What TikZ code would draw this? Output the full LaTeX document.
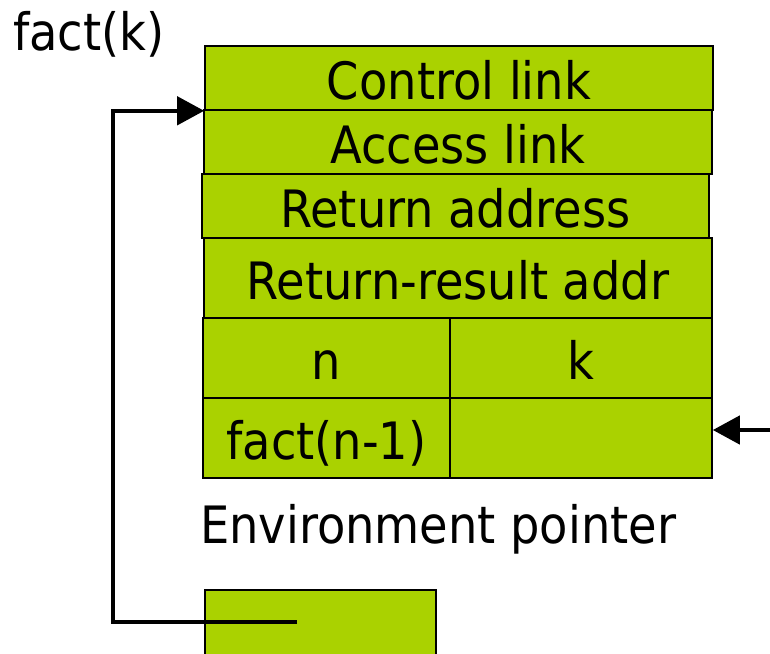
\documentclass[tikz,border=0pt]{standalone}
\usepackage{fontspec}
\setmainfont{DejaVu Sans Condensed}
\usetikzlibrary{arrows.meta}
\definecolor{framegreen}{RGB}{170,210,0}
\tikzset{
  cell/.style={draw=black, line width=1.6pt, fill=framegreen, inner sep=0pt,
    font=\fontsize{51.5}{58}\selectfont, text height=46pt, text depth=4pt},
  label/.style={inner sep=0pt, anchor=base west, font=\fontsize{51.5}{58}\selectfont},
  pointer/.style={line width=4.5pt, line join=miter,
    -{Triangle[length=27pt,width=28pt]}}
}
\begin{document}
\begin{tikzpicture}[x=1pt,y=-1pt]
\useasboundingbox (0,0) rectangle (770,653);
\clip (0,0) rectangle (770,653);

% activation record of fact(k)
\node[cell, minimum width=508pt, minimum height=64pt] (ctrl) at (459,78) {Control link};
\node[cell, minimum width=508pt, minimum height=64pt] (acc) at (458,142) {Access link};
\node[cell, minimum width=507pt, minimum height=64pt] (ret) at (455.5,206) {Return address};
\node[cell, minimum width=508pt, minimum height=80pt] (rres) at (458,278) {Return-result addr};
\node[cell, minimum width=247pt, minimum height=80pt] (n) at (326.5,358) {n};
\node[cell, minimum width=262pt, minimum height=80pt] (k) at (581,358) {k};
\node[cell, minimum width=247pt, minimum height=80pt] (fn) at (326.5,438) {fact(n-1)};
\node[cell, minimum width=262pt, minimum height=80pt] (env) at (581,438) {};

% caller's frame, partly visible
\node[cell, minimum width=231pt, minimum height=80pt] (low) at (320.5,630) {};

\node[label] (title) at (13,50) {fact(k)};
\node[label] (envlabel) at (200,543) {Environment pointer};

% access link of the caller pointing to this frame
\coordinate (lowptr) at (297,622);
\coordinate (bend) at (113,622);
\draw[pointer] (lowptr) -- (bend) |- (ctrl.south west);

% environment pointer
\coordinate (envin) at (772,430);
\draw[pointer] (envin) -- (envin -| env.east);
\end{tikzpicture}
\end{document}
